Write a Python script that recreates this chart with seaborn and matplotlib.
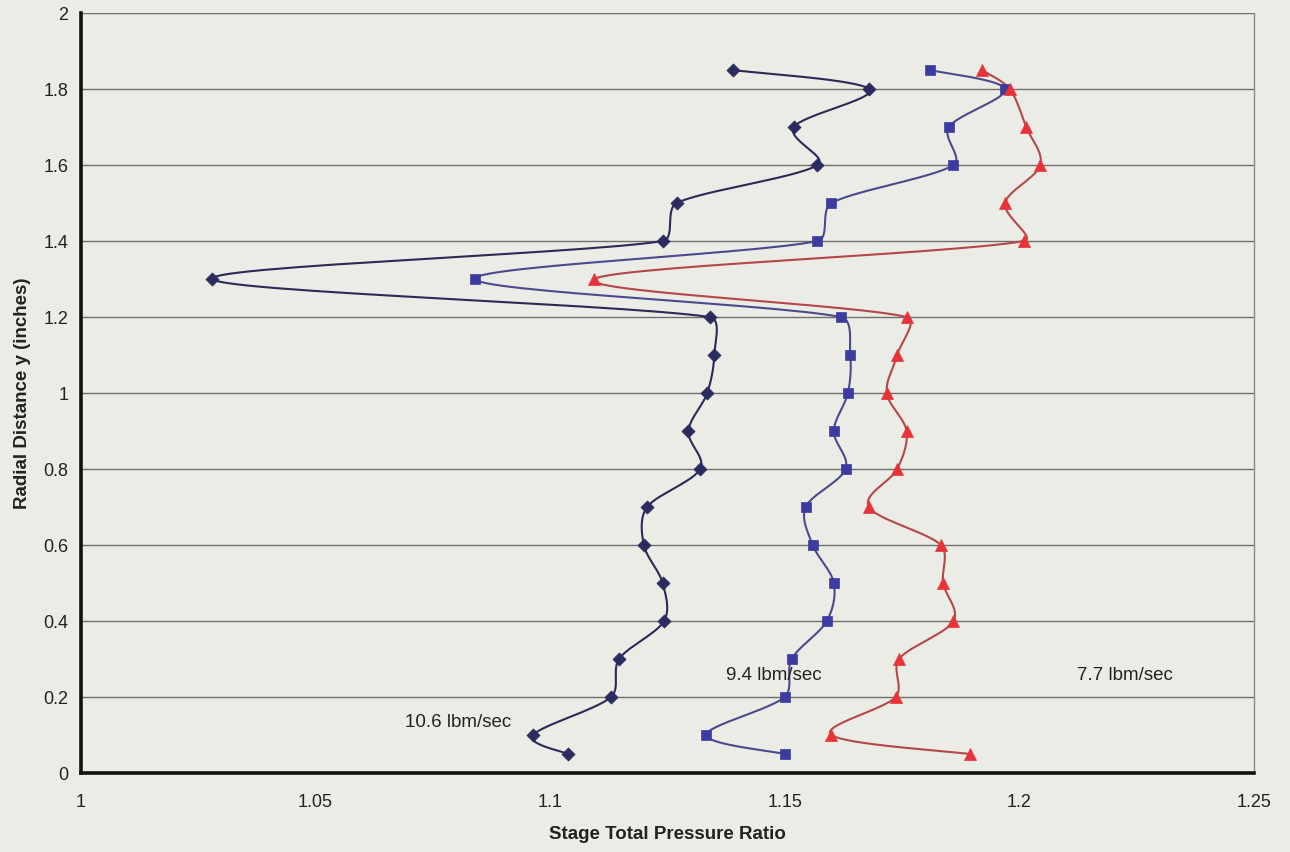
import numpy as np
import pandas as pd
import seaborn as sns
import matplotlib
matplotlib.use('Agg')
import matplotlib.pyplot as plt

# radial positions (inches)
radial_y = [1.85, 1.8, 1.7, 1.6, 1.5, 1.4, 1.3, 1.2, 1.1, 1.0, 0.9, 0.8, 0.7, 0.6, 0.5, 0.4, 0.3, 0.2, 0.1, 0.05]

# stage total pressure ratio for each mass flow
pr_106 = [1.139, 1.168, 1.152, 1.157, 1.127, 1.124, 1.028, 1.134, 1.135, 1.1335, 1.1295, 1.132,
          1.1207, 1.120, 1.124, 1.1243, 1.1147, 1.113, 1.0964, 1.1038]
pr_94 = [1.181, 1.197, 1.185, 1.186, 1.160, 1.157, 1.084, 1.162, 1.164, 1.1635, 1.1605, 1.163,
         1.1545, 1.156, 1.1605, 1.159, 1.1515, 1.150, 1.1333, 1.150]
pr_77 = [1.192, 1.198, 1.2015, 1.2045, 1.197, 1.201, 1.1094, 1.176, 1.174, 1.1718, 1.176, 1.174,
         1.168, 1.1833, 1.1838, 1.186, 1.1744, 1.1737, 1.160, 1.1895]

series_names = ['10.6 lbm/sec', '9.4 lbm/sec', '7.7 lbm/sec']
x_ticks = [1, 1.05, 1.1, 1.15, 1.2, 1.25]
x_tick_labels = ['1', '1.05', '1.1', '1.15', '1.2', '1.25']
y_ticks = [0, 0.2, 0.4, 0.6, 0.8, 1.0, 1.2, 1.4, 1.6, 1.8, 2.0]
y_tick_labels = ['0', '0.2', '0.4', '0.6', '0.8', '1', '1.2', '1.4', '1.6', '1.8', '2']

df = pd.concat([
    pd.DataFrame({'pr': pr_106, 'y': radial_y, 'flow': series_names[0]}),
    pd.DataFrame({'pr': pr_94, 'y': radial_y, 'flow': series_names[1]}),
    pd.DataFrame({'pr': pr_77, 'y': radial_y, 'flow': series_names[2]}),
], ignore_index=True)

line_colors = {series_names[0]: '#2a2a58', series_names[1]: '#4a4a8c', series_names[2]: '#b44749'}
mark_colors = {series_names[0]: '#2b2b60', series_names[1]: '#3b3ba0', series_names[2]: '#e8323a'}
markers = {series_names[0]: 'D', series_names[1]: 's', series_names[2]: '^'}
mark_sizes = {series_names[0]: 45, series_names[1]: 60, series_names[2]: 75}


def smooth_path(xs, ys, sx=4690.0, sy=380.0, n=30):
    # excel-like smoothed line: catmull-rom bezier, handle length capped by
    # the segment length so short segments next to long ones don't loop
    P = np.column_stack([np.asarray(xs) * sx, np.asarray(ys) * sy])
    out = []
    for i in range(len(P) - 1):
        p0 = P[max(i - 1, 0)]
        p1 = P[i]
        p2 = P[i + 1]
        p3 = P[min(i + 2, len(P) - 1)]
        seg = np.linalg.norm(p2 - p1)
        t1 = (p2 - p0) / 6.0
        t2 = (p3 - p1) / 6.0
        n1 = np.linalg.norm(t1) + 1e-9
        n2 = np.linalg.norm(t2) + 1e-9
        c1 = p1 + t1 / n1 * min(n1, seg / 3.0)
        c2 = p2 - t2 / n2 * min(n2, seg / 3.0)
        t = np.linspace(0, 1, n)[:, None]
        pts = (1 - t) ** 3 * p1 + 3 * (1 - t) ** 2 * t * c1 + 3 * (1 - t) * t ** 2 * c2 + t ** 3 * p2
        out.append(pts if i == 0 else pts[1:])
    out = np.vstack(out)
    return out[:, 0] / sx, out[:, 1] / sy


sns.set_theme(style='white')
plt.rcParams['font.family'] = ['Liberation Sans', 'DejaVu Sans']

fig = plt.figure(figsize=(12.9, 8.52), dpi=100)
fig.patch.set_facecolor('#ecece6')
ax = fig.add_axes([0.0628, 0.0927, 0.909, 0.892])
ax.set_facecolor('#ecece6')

for name in series_names:
    sub = df[df['flow'] == name]
    sx_, sy_ = smooth_path(sub['pr'].values, sub['y'].values)
    sns.lineplot(x=sx_, y=sy_, sort=False, ax=ax, color=line_colors[name], linewidth=1.5,
                 estimator=None, legend=False)
    sns.scatterplot(data=sub, x='pr', y='y', ax=ax, marker=markers[name], s=mark_sizes[name],
                    color=mark_colors[name], edgecolor=mark_colors[name], linewidth=0.5,
                    legend=False, zorder=4)

ax.set_xlim(1, 1.25)
ax.set_ylim(0, 2)
ax.set_xticks(x_ticks)
ax.set_xticklabels(x_tick_labels)
ax.set_yticks(y_ticks)
ax.set_yticklabels(y_tick_labels)
ax.yaxis.grid(True, color='#6e6e6e', linewidth=1.0)
ax.xaxis.grid(False)
ax.set_axisbelow(True)

for side in ['left', 'bottom']:
    ax.spines[side].set_color('#111111')
    ax.spines[side].set_linewidth(2.6)
ax.spines['right'].set_color('#8a8a8a')
ax.spines['right'].set_linewidth(1.0)
ax.spines['top'].set_visible(False)

ax.tick_params(axis='both', direction='in', length=5, width=2, color='#111111',
               labelsize=13, labelcolor='#222222')
ax.tick_params(axis='x', pad=15)
ax.tick_params(axis='y', pad=9)

ax.set_xlabel('Stage Total Pressure Ratio', fontsize=13.5, fontweight='bold', color='#222222', labelpad=11)
ax.set_ylabel('Radial Distance y (inches)', fontsize=13.5, fontweight='bold', color='#222222', labelpad=9)

ax.text(1.0805, 0.134, series_names[0], fontsize=13.5, color='#222222', ha='center', va='center')
ax.text(1.1476, 0.256, series_names[1], fontsize=13.5, color='#222222', ha='center', va='center')
ax.text(1.2225, 0.256, series_names[2], fontsize=13.5, color='#222222', ha='center', va='center')

fig.savefig('out.png', dpi=100, facecolor=fig.get_facecolor())
